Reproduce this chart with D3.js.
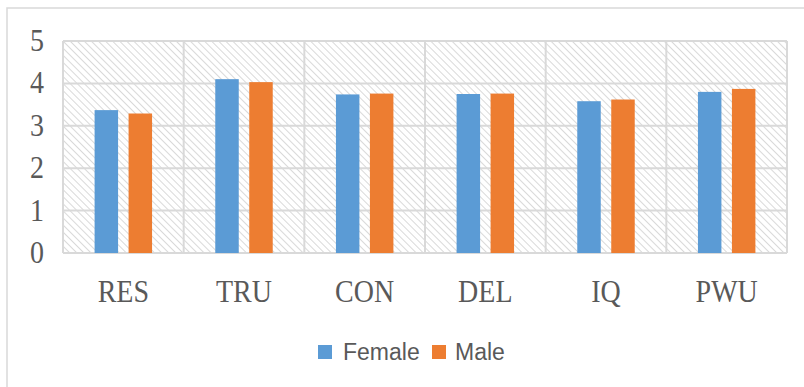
<!DOCTYPE html>
<html>
<head>
<meta charset="utf-8">
<script src="https://cdn.jsdelivr.net/npm/d3@7"></script>
<style>
  html, body { margin: 0; padding: 0; background: #fff; }
  svg { display: block; }
</style>
</head>
<body>
<svg id="chart" width="804" height="387"></svg>
<script>
const categories = ["RES", "TRU", "CON", "DEL", "IQ", "PWU"];
const seriesNames = ["Female", "Male"];
const femaleValues = [3.37, 4.10, 3.74, 3.75, 3.58, 3.80];
const maleValues = [3.29, 4.03, 3.76, 3.76, 3.62, 3.87];
const yTicks = [0, 1, 2, 3, 4, 5];
const colors = ["#5B9BD5", "#ED7D31"];

const seriesValues = [femaleValues, maleValues];
const svg = d3.select("#chart");

// Outer frame
svg.append("rect")
  .attr("x", 7).attr("y", 8).attr("width", 820).attr("height", 400)
  .attr("fill", "#fff").attr("stroke", "#d9d9d9").attr("stroke-width", 1.5);

const plot = { left: 63, right: 787, top: 41, bottom: 253 };

const x = d3.scaleBand().domain(categories).range([plot.left, plot.right]).padding(0);
const xInner = d3.scaleBand().domain(seriesNames).range([0, x.bandwidth()])
  .paddingInner(0.309).paddingOuter(0.93);
const y = d3.scaleLinear().domain([0, 5]).range([plot.bottom, plot.top]);

// Hatch pattern (lines running top-left to bottom-right)
const defs = svg.append("defs");
const pat = defs.append("pattern")
  .attr("id", "hatch").attr("patternUnits", "userSpaceOnUse")
  .attr("width", 5).attr("height", 5)
  .attr("patternTransform", "rotate(-45)");
pat.append("rect").attr("width", 5).attr("height", 5).attr("fill", "#fff");
pat.append("line").attr("x1", 0).attr("y1", 0).attr("x2", 0).attr("y2", 5)
  .attr("stroke", "#d2d2d2").attr("stroke-width", 1.7);

svg.append("rect")
  .attr("x", plot.left).attr("y", plot.top)
  .attr("width", plot.right - plot.left).attr("height", plot.bottom - plot.top)
  .attr("fill", "url(#hatch)");

// Horizontal gridlines
svg.append("g").selectAll("line").data(yTicks).join("line")
  .attr("x1", plot.left).attr("x2", plot.right)
  .attr("y1", d => y(d)).attr("y2", d => y(d))
  .attr("stroke", "#d9d9d9").attr("stroke-width", 2);

// Vertical category separators
const seps = categories.map(c => x(c)).concat([plot.right]);
svg.append("g").selectAll("line").data(seps).join("line")
  .attr("x1", d => d).attr("x2", d => d)
  .attr("y1", plot.top).attr("y2", plot.bottom)
  .attr("stroke", "#d9d9d9").attr("stroke-width", 2);

// Bars
const groups = svg.append("g").selectAll("g").data(categories).join("g")
  .attr("transform", c => `translate(${x(c)},0)`);
groups.selectAll("rect")
  .data((c, i) => seriesNames.map((s, j) => ({ s, v: seriesValues[j][i], j })))
  .join("rect")
  .attr("x", d => xInner(d.s))
  .attr("width", xInner.bandwidth())
  .attr("y", d => y(d.v))
  .attr("height", d => y(0) - y(d.v))
  .attr("fill", d => colors[d.j]);

// Y axis labels
svg.append("g").selectAll("text").data(yTicks).join("text")
  .attr("transform", d => `translate(44,${y(d) + 10}) scale(1,1.12)`)
  .attr("text-anchor", "end")
  .attr("font-family", "'Liberation Serif', 'Times New Roman', serif")
  .attr("font-size", 28)
  .attr("fill", "#595959")
  .text(d => d);

// X axis labels
svg.append("g").selectAll("text").data(categories).join("text")
  .attr("transform", c => `translate(${x(c) + x.bandwidth() / 2},302) scale(1,1.12)`)
  .attr("text-anchor", "middle")
  .attr("font-family", "'Liberation Serif', 'Times New Roman', serif")
  .attr("font-size", 28)
  .attr("fill", "#595959")
  .text(c => c);

// Legend
const legendItems = [
  { name: "Female", sx: 318, tx: 343 },
  { name: "Male", sx: 432, tx: 455 }
];
const lg = svg.append("g");
lg.selectAll("rect").data(legendItems).join("rect")
  .attr("x", d => d.sx).attr("y", 345).attr("width", 14).attr("height", 14)
  .attr("fill", (d, i) => colors[i]);
lg.selectAll("text").data(legendItems).join("text")
  .attr("x", d => d.tx).attr("y", 360)
  .attr("font-family", "'Liberation Sans', Arial, sans-serif")
  .attr("font-size", 23)
  .attr("fill", "#595959")
  .text(d => d.name);
</script>
</body>
</html>
